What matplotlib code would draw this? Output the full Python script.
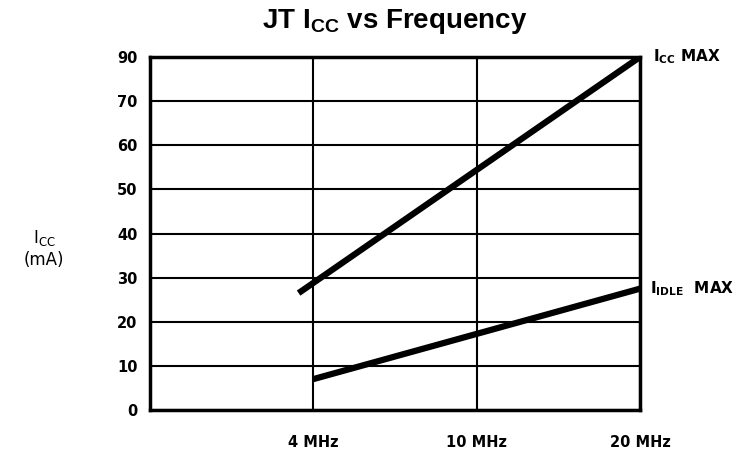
import numpy as np
import matplotlib
matplotlib.use('Agg')
import matplotlib.pyplot as plt

plt.rcParams['mathtext.default'] = 'regular'

# frequency axis labels and their slot on the axis
freq_labels = ['4 MHz', '10 MHz', '20 MHz']
freq_pos = [1, 2, 3]

# supply current curves (mA)
icc_max_x = [0.91, 3]
icc_max_y = [26.5, 90]
idle_max_x = [1, 3]
idle_max_y = [7, 27.5]

ytick_vals = [0, 10, 20, 30, 40, 50, 60, 70, 90]
ytick_labels = ['0', '10', '20', '30', '40', '50', '60', '70', '90']


# the chart squeezes 70..90 into one grid step
def fwd(v):
    v = np.asarray(v, dtype=float)
    return np.where(v <= 70, v, 70 + (v - 70) / 2)


def inv(u):
    u = np.asarray(u, dtype=float)
    return np.where(u <= 70, u, 70 + (u - 70) * 2)


fig = plt.figure(figsize=(7.45, 4.54), dpi=100)
ax = fig.add_axes([0.2013, 0.0969, 0.859 - 0.2013, 0.8744 - 0.0969])
ax.set_yscale('function', functions=(fwd, inv))
ax.set_xlim(0, 3)
ax.set_ylim(0, 90)

ax.plot(icc_max_x, icc_max_y, color='black', lw=4.5, solid_capstyle='butt', zorder=3)
ax.plot(idle_max_x, idle_max_y, color='black', lw=4.5, solid_capstyle='butt', zorder=3)

ax.set_yticks(ytick_vals)
ax.set_yticklabels(ytick_labels)
ax.set_xticks(freq_pos)
ax.set_xticklabels(freq_labels)
ax.tick_params(axis='both', length=0, labelsize=10.5)
ax.tick_params(axis='y', pad=9)
ax.tick_params(axis='x', pad=18)
for lab in ax.get_xticklabels() + ax.get_yticklabels():
    lab.set_fontweight('bold')

ax.grid(True, color='black', lw=1.5)
for s in ax.spines.values():
    s.set_linewidth(2.5)
    s.set_zorder(4)

ax.text(3.08, 90, r'I$_{CC}$ MAX', fontsize=11, fontweight='bold',
        va='center', ha='left', clip_on=False)
ax.text(3.06, 27.5, r'I$_{IDLE}$  MAX', fontsize=11, fontweight='bold',
        va='center', ha='left', clip_on=False)

fig.text(0.059, 0.452, 'I$_{CC}$\n(mA)', fontsize=12, ha='center', va='center',
         linespacing=1.2)
fig.text(0.53, 0.953, r'JT I$_{CC}$ vs Frequency', fontsize=20,
         fontweight='bold', family='Liberation Sans', ha='center', va='center')

fig.savefig('out.png', dpi=100)
